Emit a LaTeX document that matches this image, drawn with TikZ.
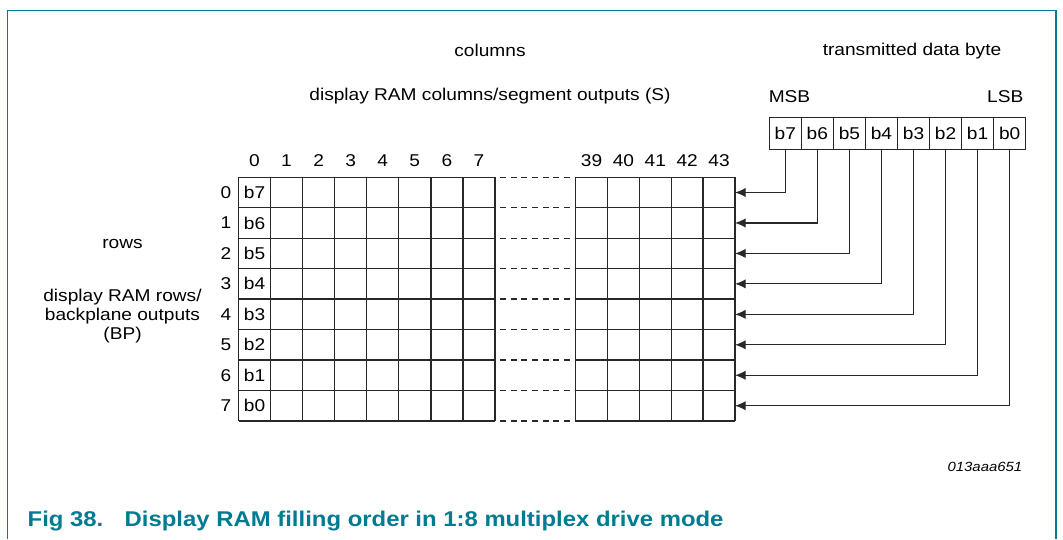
\documentclass[tikz,border=0pt]{standalone}
\usepackage{fontspec}
\setmainfont{Liberation Sans}[FakeStretch=1.12]
\usepackage{tikz}
\usetikzlibrary{arrows.meta, positioning}
\definecolor{nxpteal}{RGB}{0,123,145}
\definecolor{gridink}{RGB}{40,40,40}

\tikzset{
  gridline/.style={draw=gridink, line width=1pt},
  dashlink/.style={draw=gridink, line width=1pt, dash pattern=on 4.5pt off 3.5pt},
  bytecell/.style={draw=gridink, line width=1pt, minimum width=24.04pt, minimum height=23.7pt, inner sep=0pt, outer sep=0pt},
  bitarrow/.style={-{Latex[length=8pt,width=7pt]}, draw=gridink, line width=0.9pt},
}

\begin{document}
\begin{tikzpicture}[x=0.75pt, y=-0.75pt, font=\fontsize{12.8}{15.5}\selectfont]
  \useasboundingbox (0,0) rectangle (1063,539);

  % Frame
  \draw[nxpteal, line width=1.1pt] (7.3,539) -- (7.3,10.7) -- (1056,10.7) -- (1056,539);

  % Headings
  \node (colhead) at (490,50) {columns};
  \node (colsub) at (490,96) {display RAM columns/segment outputs (S)};
  \node (bytehead) at (912,51) {transmitted data byte};
  \node (msb) at (789.5,96.7) {MSB};
  \node[anchor=east] (lsb) at (1028,96.7) {LSB};
  \node (rowhead) at (122.5,244) {rows};
  \node[align=center, font=\fontsize{12.8}{14}\selectfont] (rowsub) at (122.5,316) {display RAM rows/\\backplane outputs\\(BP)};

  % Display RAM grid, columns 0..7 and 39..43
  \foreach \r in {0,...,8} {
    \draw[gridline] (238.5,{177.3+30.46*\r}) -- (495,{177.3+30.46*\r});
    \draw[gridline] (575.5,{177.3+30.46*\r}) -- (735,{177.3+30.46*\r});
    \draw[dashlink] (500,{177.3+30.46*\r}) -- (575.5,{177.3+30.46*\r});
  }
  \foreach \c in {0,...,8}
    \draw[gridline] ({238.5+32.06*\c},177.3) -- ({238.5+32.06*\c},421);
  \foreach \c in {0,...,5}
    \draw[gridline] ({575.5+31.9*\c},177.3) -- ({575.5+31.9*\c},421);

  % Column numbers
  \foreach \c in {0,...,7}
    \node (col\c) at ({254.5+32.06*\c},161) {\c};
  \foreach \c [count=\j from 0] in {39,...,43}
    \node (col\c) at ({591.5+31.9*\j},161) {\c};

  % Row numbers, first column bits, row inputs
  \foreach \r in {0,...,7} {
    \pgfmathtruncatemacro\bit{7-\r}
    \node (row\r) at (226,{192.5+30.46*\r}) {\r};
    \node (ram\r) at (254.5,{192.5+30.46*\r}) {b\bit};
    \coordinate (rowin\r) at (735,{192.5+30.46*\r});
  }

  % Transmitted byte
  \foreach \k in {0,...,7} {
    \pgfmathtruncatemacro\bit{7-\k}
    \node[bytecell] (bit\bit) at ({785.3+32.05*\k},133.5) {b\bit};
  }

  % Bit to row connectors
  \foreach \r in {0,...,7} {
    \pgfmathtruncatemacro\bit{7-\r}
    \draw[bitarrow] (bit\bit.south) |- (rowin\r);
  }

  % Figure id and caption
  \node[anchor=east, font=\fontsize{10}{12}\selectfont\itshape] (figid) at (1027,467) {013aaa651};
  \node[anchor=west, text=nxpteal, font=\fontsize{16}{18}\selectfont\bfseries] (caption) at (23,521)
    {Fig 38.\hspace{16pt}Display RAM filling order in 1:8 multiplex drive mode};
\end{tikzpicture}
\end{document}
